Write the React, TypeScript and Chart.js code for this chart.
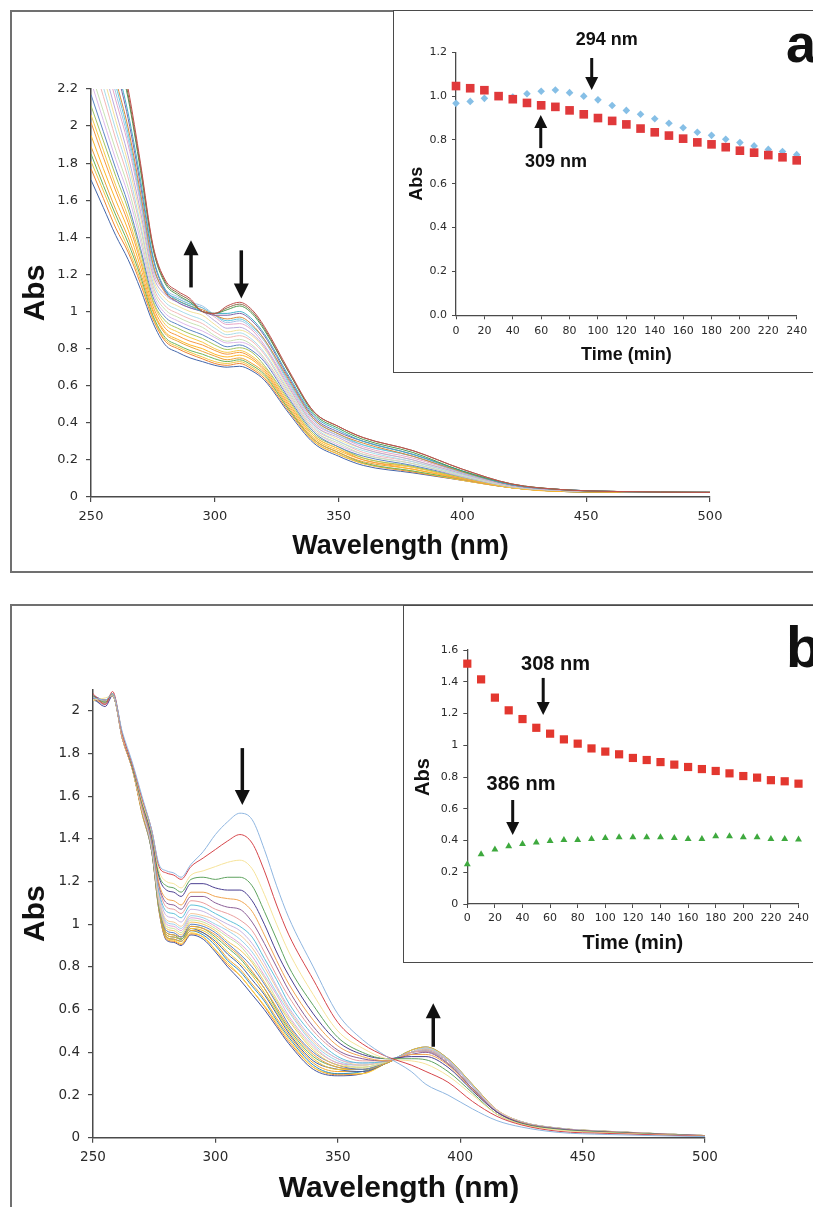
import React, { useEffect, useRef } from 'react';
import { Chart, registerables } from 'chart.js';

Chart.register(...registerables);

// ---------------- data ----------------
// Panel a: UV-vis spectra (one row per spectrum, every 10 min)
const WL_A = [250, 255, 260, 265, 270, 275, 280, 285, 290, 295, 300, 305, 310, 315, 320, 330, 340, 350, 360, 380, 400, 420, 440, 460, 500];
const SPEC_A = [
  [3.10, 2.80, 2.50, 2.20, 1.80, 1.36, 1.17, 1.11, 1.07, 1.00, 0.99, 1.03, 1.05, 1.01, 0.92, 0.68, 0.46, 0.38, 0.32, 0.25, 0.15, 0.07, 0.04, 0.03, 0.025],
  [3.06, 2.76, 2.47, 2.17, 1.78, 1.35, 1.16, 1.10, 1.06, 1.00, 0.99, 1.02, 1.04, 1.00, 0.91, 0.67, 0.46, 0.38, 0.32, 0.25, 0.15, 0.07, 0.04, 0.03, 0.025],
  [3.02, 2.73, 2.43, 2.15, 1.76, 1.34, 1.15, 1.09, 1.05, 1.00, 0.99, 1.01, 1.03, 0.99, 0.90, 0.67, 0.45, 0.37, 0.31, 0.24, 0.14, 0.07, 0.04, 0.03, 0.025],
  [2.91, 2.63, 2.35, 2.07, 1.71, 1.30, 1.12, 1.06, 1.03, 1.00, 0.99, 0.99, 1.00, 0.96, 0.88, 0.65, 0.44, 0.36, 0.30, 0.23, 0.14, 0.065, 0.04, 0.03, 0.025],
  [2.86, 2.59, 2.32, 2.04, 1.68, 1.29, 1.11, 1.05, 1.02, 1.00, 0.98, 0.98, 0.99, 0.95, 0.87, 0.64, 0.43, 0.35, 0.30, 0.23, 0.14, 0.065, 0.04, 0.03, 0.025],
  [2.78, 2.52, 2.25, 1.99, 1.64, 1.26, 1.10, 1.06, 1.03, 1.01, 0.98, 0.96, 0.97, 0.93, 0.85, 0.63, 0.42, 0.34, 0.29, 0.22, 0.135, 0.065, 0.04, 0.03, 0.025],
  [2.74, 2.48, 2.22, 1.96, 1.62, 1.25, 1.11, 1.07, 1.04, 1.02, 0.98, 0.95, 0.96, 0.92, 0.85, 0.62, 0.42, 0.34, 0.28, 0.22, 0.135, 0.065, 0.04, 0.03, 0.025],
  [2.70, 2.44, 2.18, 1.93, 1.60, 1.24, 1.12, 1.08, 1.05, 1.03, 0.98, 0.94, 0.95, 0.91, 0.84, 0.61, 0.41, 0.33, 0.28, 0.22, 0.13, 0.065, 0.04, 0.03, 0.025],
  [2.64, 2.39, 2.14, 1.90, 1.58, 1.22, 1.11, 1.07, 1.04, 1.02, 0.97, 0.93, 0.935, 0.90, 0.82, 0.60, 0.40, 0.33, 0.27, 0.21, 0.13, 0.06, 0.04, 0.03, 0.025],
  [2.56, 2.32, 2.08, 1.84, 1.54, 1.20, 1.09, 1.05, 1.02, 1.00, 0.95, 0.91, 0.915, 0.88, 0.81, 0.59, 0.39, 0.32, 0.26, 0.20, 0.125, 0.06, 0.035, 0.03, 0.025],
  [2.50, 2.27, 2.03, 1.80, 1.51, 1.18, 1.07, 1.03, 1.00, 0.98, 0.93, 0.89, 0.90, 0.87, 0.80, 0.58, 0.39, 0.31, 0.26, 0.20, 0.125, 0.06, 0.035, 0.03, 0.025],
  [2.43, 2.21, 1.98, 1.76, 1.47, 1.16, 1.05, 1.01, 0.98, 0.955, 0.91, 0.875, 0.885, 0.85, 0.78, 0.57, 0.38, 0.30, 0.25, 0.19, 0.12, 0.06, 0.035, 0.03, 0.025],
  [2.38, 2.16, 1.93, 1.72, 1.45, 1.14, 1.03, 0.99, 0.96, 0.935, 0.89, 0.86, 0.87, 0.84, 0.77, 0.56, 0.37, 0.30, 0.24, 0.19, 0.12, 0.06, 0.035, 0.03, 0.025],
  [2.29, 2.08, 1.87, 1.67, 1.41, 1.12, 1.01, 0.97, 0.94, 0.915, 0.87, 0.84, 0.85, 0.82, 0.75, 0.55, 0.36, 0.29, 0.23, 0.18, 0.115, 0.055, 0.035, 0.03, 0.025],
  [2.24, 2.03, 1.82, 1.63, 1.38, 1.10, 0.99, 0.95, 0.92, 0.895, 0.86, 0.83, 0.835, 0.81, 0.74, 0.54, 0.36, 0.28, 0.23, 0.18, 0.11, 0.055, 0.035, 0.03, 0.025],
  [2.17, 1.97, 1.77, 1.58, 1.34, 1.08, 0.97, 0.93, 0.90, 0.875, 0.84, 0.81, 0.82, 0.79, 0.73, 0.53, 0.35, 0.27, 0.22, 0.17, 0.11, 0.055, 0.035, 0.03, 0.025],
  [2.11, 1.92, 1.73, 1.55, 1.32, 1.06, 0.95, 0.91, 0.88, 0.855, 0.82, 0.795, 0.805, 0.78, 0.71, 0.52, 0.34, 0.27, 0.21, 0.165, 0.105, 0.055, 0.035, 0.03, 0.025],
  [2.06, 1.87, 1.68, 1.51, 1.29, 1.05, 0.93, 0.89, 0.86, 0.835, 0.80, 0.78, 0.79, 0.76, 0.70, 0.51, 0.33, 0.26, 0.21, 0.16, 0.105, 0.05, 0.035, 0.03, 0.025],
  [2.02, 1.83, 1.65, 1.48, 1.27, 1.03, 0.91, 0.87, 0.84, 0.82, 0.79, 0.77, 0.78, 0.75, 0.69, 0.50, 0.33, 0.26, 0.20, 0.16, 0.10, 0.05, 0.035, 0.03, 0.025],
  [1.95, 1.77, 1.60, 1.44, 1.24, 1.01, 0.89, 0.85, 0.82, 0.80, 0.77, 0.755, 0.765, 0.74, 0.68, 0.49, 0.32, 0.25, 0.20, 0.15, 0.10, 0.05, 0.03, 0.03, 0.025],
  [1.89, 1.72, 1.55, 1.40, 1.21, 1.00, 0.88, 0.84, 0.81, 0.785, 0.76, 0.74, 0.75, 0.72, 0.67, 0.48, 0.31, 0.24, 0.19, 0.15, 0.095, 0.05, 0.03, 0.025, 0.025],
  [1.85, 1.68, 1.52, 1.37, 1.19, 0.98, 0.86, 0.82, 0.79, 0.77, 0.745, 0.73, 0.74, 0.71, 0.66, 0.47, 0.31, 0.24, 0.185, 0.14, 0.095, 0.05, 0.03, 0.025, 0.025],
  [1.81, 1.65, 1.49, 1.34, 1.17, 0.97, 0.85, 0.81, 0.78, 0.755, 0.73, 0.72, 0.73, 0.70, 0.65, 0.47, 0.30, 0.23, 0.18, 0.14, 0.09, 0.05, 0.03, 0.025, 0.025],
  [1.77, 1.61, 1.45, 1.32, 1.15, 0.96, 0.84, 0.80, 0.77, 0.745, 0.72, 0.71, 0.72, 0.69, 0.64, 0.46, 0.30, 0.23, 0.18, 0.135, 0.09, 0.05, 0.03, 0.025, 0.025],
  [1.71, 1.56, 1.41, 1.28, 1.12, 0.94, 0.82, 0.78, 0.75, 0.73, 0.71, 0.70, 0.705, 0.68, 0.63, 0.45, 0.29, 0.22, 0.17, 0.13, 0.09, 0.05, 0.03, 0.025, 0.025],
];

// Panel b: UV-vis spectra
const WL_B = [250, 255, 258, 262, 266, 270, 274, 277, 280, 283, 286, 290, 295, 300, 305, 310, 315, 320, 325, 330, 340, 350, 360, 370, 380, 386, 395, 405, 415, 425, 440, 460, 500];
const SPEC_B = [
  [2.06, 2.05, 2.08, 1.90, 1.76, 1.60, 1.44, 1.28, 1.25, 1.24, 1.22, 1.28, 1.34, 1.42, 1.48, 1.52, 1.49, 1.35, 1.18, 1.03, 0.80, 0.58, 0.46, 0.38, 0.31, 0.25, 0.20, 0.135, 0.08, 0.05, 0.025, 0.015, 0.005],
  [2.08, 2.03, 2.09, 1.89, 1.75, 1.59, 1.44, 1.27, 1.24, 1.23, 1.21, 1.27, 1.31, 1.35, 1.39, 1.42, 1.38, 1.25, 1.09, 0.95, 0.74, 0.54, 0.44, 0.38, 0.34, 0.31, 0.26, 0.17, 0.10, 0.06, 0.03, 0.02, 0.007],
  [2.05, 2.06, 2.07, 1.88, 1.75, 1.58, 1.43, 1.25, 1.20, 1.19, 1.17, 1.23, 1.25, 1.27, 1.29, 1.30, 1.26, 1.14, 1.00, 0.87, 0.67, 0.50, 0.42, 0.37, 0.36, 0.345, 0.29, 0.20, 0.11, 0.063, 0.036, 0.023, 0.008],
  [2.07, 2.04, 2.08, 1.89, 1.74, 1.57, 1.42, 1.23, 1.18, 1.17, 1.15, 1.21, 1.22, 1.21, 1.22, 1.22, 1.18, 1.06, 0.93, 0.80, 0.62, 0.47, 0.40, 0.37, 0.37, 0.365, 0.31, 0.21, 0.11, 0.066, 0.038, 0.025, 0.008],
  [2.06, 2.02, 2.07, 1.88, 1.74, 1.57, 1.41, 1.22, 1.16, 1.15, 1.13, 1.19, 1.19, 1.17, 1.16, 1.16, 1.11, 1.00, 0.87, 0.76, 0.58, 0.45, 0.39, 0.37, 0.38, 0.38, 0.33, 0.22, 0.12, 0.068, 0.04, 0.026, 0.009],
  [2.05, 2.04, 2.08, 1.87, 1.73, 1.56, 1.40, 1.19, 1.12, 1.11, 1.09, 1.15, 1.15, 1.13, 1.12, 1.11, 1.06, 0.95, 0.83, 0.72, 0.55, 0.43, 0.38, 0.36, 0.39, 0.39, 0.34, 0.225, 0.12, 0.07, 0.04, 0.027, 0.009],
  [2.07, 2.05, 2.07, 1.88, 1.74, 1.56, 1.39, 1.18, 1.10, 1.09, 1.07, 1.13, 1.13, 1.10, 1.08, 1.07, 1.01, 0.91, 0.80, 0.69, 0.52, 0.41, 0.37, 0.36, 0.39, 0.40, 0.345, 0.23, 0.12, 0.07, 0.042, 0.027, 0.009],
  [2.06, 2.03, 2.08, 1.87, 1.73, 1.55, 1.39, 1.17, 1.08, 1.07, 1.05, 1.11, 1.10, 1.07, 1.05, 1.02, 0.97, 0.87, 0.76, 0.66, 0.50, 0.40, 0.36, 0.36, 0.40, 0.405, 0.35, 0.23, 0.12, 0.072, 0.042, 0.028, 0.009],
  [2.05, 2.04, 2.07, 1.88, 1.73, 1.55, 1.38, 1.15, 1.06, 1.05, 1.03, 1.09, 1.08, 1.05, 1.02, 0.99, 0.94, 0.84, 0.74, 0.63, 0.48, 0.38, 0.35, 0.36, 0.40, 0.405, 0.35, 0.23, 0.12, 0.072, 0.042, 0.028, 0.009],
  [2.07, 2.04, 2.08, 1.87, 1.74, 1.55, 1.38, 1.14, 1.04, 1.03, 1.01, 1.07, 1.06, 1.03, 1.00, 0.97, 0.91, 0.82, 0.71, 0.61, 0.46, 0.37, 0.35, 0.36, 0.40, 0.41, 0.36, 0.24, 0.125, 0.072, 0.043, 0.028, 0.009],
  [2.06, 2.05, 2.07, 1.88, 1.73, 1.54, 1.37, 1.12, 1.02, 1.01, 0.99, 1.05, 1.04, 1.02, 0.98, 0.95, 0.89, 0.80, 0.70, 0.60, 0.45, 0.37, 0.34, 0.36, 0.40, 0.415, 0.36, 0.24, 0.13, 0.073, 0.043, 0.029, 0.01],
  [2.05, 2.03, 2.08, 1.87, 1.73, 1.55, 1.37, 1.12, 1.01, 1.00, 0.98, 1.04, 1.03, 1.00, 0.97, 0.93, 0.87, 0.78, 0.68, 0.59, 0.44, 0.36, 0.34, 0.36, 0.40, 0.42, 0.365, 0.245, 0.127, 0.074, 0.044, 0.029, 0.01],
  [2.07, 2.04, 2.07, 1.88, 1.74, 1.54, 1.36, 1.11, 1.00, 0.99, 0.97, 1.03, 1.02, 0.99, 0.95, 0.91, 0.85, 0.76, 0.67, 0.57, 0.43, 0.35, 0.34, 0.36, 0.40, 0.42, 0.365, 0.245, 0.127, 0.074, 0.044, 0.029, 0.01],
  [2.06, 2.04, 2.08, 1.87, 1.73, 1.54, 1.36, 1.10, 0.99, 0.98, 0.96, 1.02, 1.01, 0.98, 0.94, 0.90, 0.83, 0.75, 0.65, 0.56, 0.42, 0.35, 0.33, 0.355, 0.40, 0.42, 0.365, 0.245, 0.127, 0.074, 0.044, 0.029, 0.01],
  [2.05, 2.05, 2.07, 1.88, 1.73, 1.54, 1.36, 1.10, 0.98, 0.97, 0.95, 1.01, 1.00, 0.97, 0.92, 0.88, 0.82, 0.73, 0.64, 0.55, 0.41, 0.34, 0.33, 0.355, 0.40, 0.42, 0.365, 0.245, 0.127, 0.074, 0.044, 0.029, 0.01],
  [2.07, 2.03, 2.08, 1.87, 1.74, 1.54, 1.35, 1.09, 0.97, 0.96, 0.94, 1.00, 0.99, 0.96, 0.91, 0.86, 0.80, 0.72, 0.63, 0.53, 0.40, 0.34, 0.32, 0.355, 0.40, 0.415, 0.36, 0.24, 0.126, 0.073, 0.043, 0.029, 0.01],
  [2.06, 2.04, 2.07, 1.88, 1.73, 1.53, 1.35, 1.09, 0.96, 0.95, 0.94, 0.99, 0.98, 0.95, 0.90, 0.85, 0.78, 0.70, 0.61, 0.52, 0.39, 0.33, 0.32, 0.35, 0.40, 0.41, 0.36, 0.24, 0.125, 0.072, 0.043, 0.028, 0.009],
  [2.05, 2.05, 2.08, 1.87, 1.73, 1.54, 1.35, 1.08, 0.96, 0.95, 0.93, 0.99, 0.98, 0.94, 0.89, 0.84, 0.77, 0.70, 0.60, 0.51, 0.38, 0.33, 0.32, 0.35, 0.40, 0.41, 0.36, 0.24, 0.125, 0.072, 0.043, 0.028, 0.009],
  [2.07, 2.04, 2.07, 1.88, 1.74, 1.53, 1.35, 1.08, 0.95, 0.94, 0.93, 0.98, 0.97, 0.93, 0.87, 0.82, 0.76, 0.68, 0.59, 0.50, 0.37, 0.32, 0.32, 0.35, 0.41, 0.425, 0.37, 0.25, 0.13, 0.075, 0.045, 0.03, 0.01],
  [2.06, 2.03, 2.08, 1.87, 1.73, 1.53, 1.35, 1.08, 0.95, 0.94, 0.93, 0.98, 0.96, 0.92, 0.86, 0.81, 0.74, 0.67, 0.58, 0.49, 0.36, 0.32, 0.31, 0.35, 0.41, 0.425, 0.37, 0.25, 0.13, 0.075, 0.045, 0.03, 0.01],
  [2.05, 2.04, 2.07, 1.88, 1.73, 1.53, 1.35, 1.07, 0.94, 0.93, 0.92, 0.97, 0.96, 0.91, 0.84, 0.79, 0.72, 0.65, 0.56, 0.48, 0.35, 0.31, 0.31, 0.35, 0.40, 0.42, 0.365, 0.245, 0.127, 0.074, 0.044, 0.029, 0.01],
  [2.07, 2.05, 2.08, 1.87, 1.74, 1.53, 1.34, 1.07, 0.94, 0.93, 0.92, 0.97, 0.95, 0.90, 0.83, 0.78, 0.71, 0.64, 0.55, 0.47, 0.34, 0.30, 0.31, 0.35, 0.40, 0.42, 0.365, 0.245, 0.127, 0.074, 0.044, 0.029, 0.01],
  [2.06, 2.03, 2.07, 1.88, 1.73, 1.52, 1.34, 1.07, 0.935, 0.925, 0.91, 0.96, 0.94, 0.88, 0.82, 0.76, 0.69, 0.62, 0.54, 0.46, 0.33, 0.30, 0.30, 0.35, 0.40, 0.41, 0.36, 0.24, 0.125, 0.072, 0.043, 0.028, 0.009],
  [2.05, 2.04, 2.08, 1.87, 1.73, 1.53, 1.34, 1.06, 0.93, 0.92, 0.905, 0.955, 0.94, 0.88, 0.81, 0.76, 0.69, 0.615, 0.53, 0.45, 0.33, 0.295, 0.30, 0.35, 0.40, 0.41, 0.36, 0.24, 0.125, 0.072, 0.043, 0.028, 0.009],
  [2.06, 2.05, 2.07, 1.88, 1.74, 1.52, 1.34, 1.06, 0.925, 0.915, 0.90, 0.95, 0.93, 0.87, 0.80, 0.74, 0.67, 0.60, 0.52, 0.44, 0.32, 0.29, 0.30, 0.35, 0.40, 0.405, 0.35, 0.23, 0.12, 0.072, 0.042, 0.028, 0.009],
];

// Insets: absorbance vs time
const TIME = [0, 10, 20, 30, 40, 50, 60, 70, 80, 90, 100, 110, 120, 130, 140, 150, 160, 170, 180, 190, 200, 210, 220, 230, 240];
const A_309 = [1.046, 1.036, 1.027, 1.00, 0.986, 0.969, 0.958, 0.951, 0.935, 0.917, 0.90, 0.887, 0.871, 0.852, 0.835, 0.82, 0.806, 0.789, 0.78, 0.767, 0.751, 0.742, 0.731, 0.721, 0.707];
const A_294 = [0.967, 0.976, 0.99, 1.00, 0.996, 1.011, 1.022, 1.028, 1.016, 1.00, 0.983, 0.957, 0.935, 0.917, 0.897, 0.876, 0.856, 0.835, 0.821, 0.803, 0.788, 0.773, 0.757, 0.747, 0.733];
const B_308 = [1.514, 1.415, 1.30, 1.22, 1.165, 1.11, 1.073, 1.037, 1.01, 0.98, 0.96, 0.943, 0.92, 0.907, 0.894, 0.878, 0.863, 0.85, 0.838, 0.823, 0.806, 0.796, 0.78, 0.773, 0.758];
const B_386 = [0.25, 0.313, 0.344, 0.363, 0.378, 0.388, 0.397, 0.403, 0.403, 0.41, 0.416, 0.42, 0.42, 0.42, 0.42, 0.416, 0.41, 0.41, 0.426, 0.426, 0.42, 0.42, 0.41, 0.41, 0.407];

// Annotations (in data units)
const ARROWS_MAIN_A = [{ x: 290.4, from: 1.13, to: 1.385 }, { x: 310.7, from: 1.33, to: 1.07 }];
const ARROWS_MAIN_B = [{ x: 311, from: 1.825, to: 1.558 }, { x: 389, from: 0.426, to: 0.63 }];
const ARROWS_INSET_A = [{ x: 95.6, from: 1.174, to: 1.028 }, { x: 59.7, from: 0.763, to: 0.914 }];
const LABELS_INSET_A = [{ x: 106.2, y: 1.256, text: '294 nm' }, { x: 70.4, y: 0.70, text: '309 nm' }];
const ARROWS_INSET_B = [{ x: 55, from: 1.424, to: 1.19 }, { x: 32.9, from: 0.655, to: 0.435 }];
const LABELS_INSET_B = [{ x: 63.9, y: 1.51, text: '308 nm' }, { x: 38.9, y: 0.75, text: '386 nm' }];

// ---------------- styles ----------------
const COLORS_A = ['#c0504d', '#8a6d4a', '#4e9a4e', '#3fb0c8', '#7f63a8', '#d98a3a', '#64cbe0', '#9fc3e6', '#e8a7c8', '#b9a9dc', '#f3e29b', '#a9dce9', '#f2b8b8', '#c9e2b3', '#dcb8ea', '#5b86c4', '#a3c45f', '#f7c948', '#f59a43', '#ffb627', '#e9a23b', '#6bb25a', '#f2c744', '#ee8433', '#4466aa'];
const COLORS_B = ['#8fb6e0', '#d6464b', '#f6e39a', '#5fa35f', '#4b3f91', '#f0a552', '#8c5f97', '#ea9f9f', '#5fc1d9', '#c7b5e3', '#f5c89c', '#98d2ea', '#e3a3d4', '#c8e1a1', '#f7c65b', '#5a7fc0', '#ef9a3b', '#5fb06a', '#f3c22f', '#3d5fa6', '#f6a72a', '#2f8cc2', '#ffd43e', '#f08d2f', '#3f55a0'];

const TICK_FONT = '"DejaVu Sans", Verdana, sans-serif';
const TITLE_FONT = '"Liberation Sans", Arial, Helvetica, sans-serif';
const AXIS_COLOR = '#4a4a4a';
const TICK_COLOR = '#2a2a2a';

const general = (v: any) => String(parseFloat(Number(v).toFixed(3)));

function annotationPlugin(arrows: any[], labels: any[], st: any) {
  return {
    id: 'annot',
    afterDatasetsDraw(chart: any) {
      const { ctx, scales } = chart;
      const xs = scales.x;
      const ys = scales.y;
      ctx.save();
      ctx.fillStyle = '#111';
      ctx.strokeStyle = '#111';
      for (const a of arrows) {
        const x = xs.getPixelForValue(a.x);
        const y0 = ys.getPixelForValue(a.from);
        const y1 = ys.getPixelForValue(a.to);
        const dir = y1 > y0 ? 1 : -1;
        const base = y1 - dir * st.headLen;
        ctx.lineWidth = st.shaft;
        ctx.beginPath();
        ctx.moveTo(x, y0);
        ctx.lineTo(x, base + dir * 1);
        ctx.stroke();
        ctx.beginPath();
        ctx.moveTo(x, y1);
        ctx.lineTo(x - st.headHalf, base);
        ctx.lineTo(x + st.headHalf, base);
        ctx.closePath();
        ctx.fill();
      }
      ctx.font = `bold ${st.labelSize || 18}px ${TITLE_FONT}`;
      ctx.textAlign = 'center';
      ctx.textBaseline = 'middle';
      for (const l of labels) {
        ctx.fillText(l.text, xs.getPixelForValue(l.x), ys.getPixelForValue(l.y));
      }
      if (st.letter) {
        ctx.font = `bold ${st.letterSize}px ${TITLE_FONT}`;
        ctx.textAlign = 'left';
        ctx.textBaseline = 'alphabetic';
        ctx.fillText(st.letter, st.letterX, st.letterY);
      }
      ctx.restore();
    },
  };
}

function mainConfig(wl: number[], spec: number[][], colors: string[], o: any) {
  return {
    type: 'line',
    data: {
      datasets: spec.map((row, k) => ({
        data: wl.map((w, i) => ({ x: w, y: row[i] })),
        borderColor: colors[k % colors.length],
        borderWidth: 1,
        pointRadius: 0,
        cubicInterpolationMode: 'monotone',
        fill: false,
      })),
    },
    options: {
      responsive: false,
      animation: false,
      events: [],
      layout: { padding: o.padding },
      plugins: { legend: { display: false }, tooltip: { enabled: false } },
      scales: {
        x: {
          type: 'linear',
          min: 250,
          max: 500,
          ticks: { stepSize: 50, color: TICK_COLOR, font: { family: TICK_FONT, size: o.tickSize }, padding: 7, maxRotation: 0, autoSkip: false, callback: general },
          grid: { display: true, drawOnChartArea: false, drawTicks: true, tickLength: 5, color: AXIS_COLOR, lineWidth: 1.2 },
          border: { display: true, color: AXIS_COLOR, width: 1.5 },
          title: { display: true, text: 'Wavelength (nm)', color: '#111', font: { family: TITLE_FONT, size: o.xTitleSize, weight: 'bold', lineHeight: 1.2 }, padding: { top: 0, bottom: o.xTitlePad } },
          afterFit: (s: any) => { s.height = o.xHeight; },
        },
        y: {
          type: 'linear',
          min: 0,
          max: o.yMax,
          ticks: { stepSize: 0.2, includeBounds: false, color: TICK_COLOR, font: { family: TICK_FONT, size: o.tickSize }, padding: 8, autoSkip: false, callback: general },
          grid: { display: true, drawOnChartArea: false, drawTicks: true, tickLength: 5, color: AXIS_COLOR, lineWidth: 1.2 },
          border: { display: true, color: AXIS_COLOR, width: 1.5 },
          title: { display: true, text: 'Abs', color: '#111', font: { family: TITLE_FONT, size: o.yTitleSize, weight: 'bold', lineHeight: 1.2 }, padding: { top: o.yTitlePad, bottom: 0 } },
          afterFit: (s: any) => { s.width = o.yWidth; },
        },
      },
    },
    plugins: [annotationPlugin(o.arrows, [], { shaft: 3.5, headLen: 15, headHalf: 7.5 })],
  };
}

function insetConfig(datasets: any[], o: any) {
  return {
    type: 'scatter',
    data: { datasets },
    options: {
      responsive: false,
      animation: false,
      events: [],
      layout: { padding: o.padding },
      plugins: { legend: { display: false }, tooltip: { enabled: false } },
      scales: {
        x: {
          type: 'linear',
          min: 0,
          max: 240,
          ticks: { stepSize: 20, color: TICK_COLOR, font: { family: TICK_FONT, size: 11 }, padding: o.xTickPad, maxRotation: 0, autoSkip: false, callback: general },
          grid: { display: true, drawOnChartArea: false, drawTicks: true, tickLength: 4, color: AXIS_COLOR, lineWidth: 1 },
          border: { display: true, color: AXIS_COLOR, width: 1.3 },
          title: { display: true, text: 'Time (min)', color: '#111', font: { family: TITLE_FONT, size: o.titleSize, weight: 'bold', lineHeight: 1.2 }, padding: { top: 0, bottom: o.xTitlePad } },
          afterFit: (s: any) => { s.height = o.xHeight; },
        },
        y: {
          type: 'linear',
          min: 0,
          max: o.yMax,
          ticks: { stepSize: 0.2, color: TICK_COLOR, font: { family: TICK_FONT, size: 11 }, padding: 5, autoSkip: false, callback: o.yFormat },
          grid: { display: true, drawOnChartArea: false, drawTicks: true, tickLength: 4, color: AXIS_COLOR, lineWidth: 1 },
          border: { display: true, color: AXIS_COLOR, width: 1.3 },
          title: { display: true, text: 'Abs', color: '#111', font: { family: TITLE_FONT, size: o.titleSize, weight: 'bold', lineHeight: 1.2 }, padding: { top: o.yTitlePad, bottom: 0 } },
          afterFit: (s: any) => { s.width = o.yWidth; },
        },
      },
    },
    plugins: [annotationPlugin(o.arrows, o.labels, { shaft: 3, headLen: 13, headHalf: 6.5, labelSize: o.titleSize, letter: o.letter, letterSize: o.letterSize, letterX: o.letterX, letterY: o.letterY })],
  };
}

const makeMainA = () =>
  mainConfig(WL_A, SPEC_A, COLORS_A, {
    padding: { left: 0, top: 29, right: 30, bottom: 0 },
    yMax: 2.2, tickSize: 13, xTitleSize: 27, yTitleSize: 30, xTitlePad: 7, yTitlePad: 0,
    xHeight: 73, yWidth: 73, arrows: ARROWS_MAIN_A,
  });

const makeMainB = () =>
  mainConfig(WL_B, SPEC_B, COLORS_B, {
    padding: { left: 0, top: 49.4, right: 35, bottom: 0 },
    yMax: 2.1, tickSize: 13.5, xTitleSize: 30, yTitleSize: 30, xTitlePad: 0, yTitlePad: 0,
    xHeight: 69.3, yWidth: 75, arrows: ARROWS_MAIN_B,
  });

const makeInsetA = () =>
  insetConfig(
    [
      { data: TIME.map((t, i) => ({ x: t, y: A_309[i] })), pointStyle: 'rect', pointRadius: 6.1, backgroundColor: '#e0393b', pointBorderWidth: 0, borderColor: '#e0393b', clip: false },
      { data: TIME.map((t, i) => ({ x: t, y: A_294[i] })), pointStyle: 'rectRot', pointRadius: 3.8, backgroundColor: '#86bfe6', pointBorderWidth: 0, borderColor: '#86bfe6', clip: false },
    ],
    {
      padding: { left: 0, top: 39.3, right: 16.3, bottom: 0 },
      yMax: 1.2, yFormat: (v: any) => Number(v).toFixed(1),
      titleSize: 18, xTitlePad: 4.2, yTitlePad: 9, xHeight: 54.7, yWidth: 59, xTickPad: 5,
      arrows: ARROWS_INSET_A, labels: LABELS_INSET_A,
      letter: 'a', letterSize: 54, letterX: 389, letterY: 49,
    }
  );

const makeInsetB = () =>
  insetConfig(
    [
      { data: TIME.map((t, i) => ({ x: t, y: B_308[i] })), pointStyle: 'rect', pointRadius: 5.8, backgroundColor: '#e3372f', pointBorderWidth: 0, borderColor: '#e3372f', clip: false },
      { data: TIME.map((t, i) => ({ x: t, y: B_386[i] })), pointStyle: 'triangle', pointRadius: 4, backgroundColor: '#3ea93e', pointBorderWidth: 0, borderColor: '#3ea93e', clip: false },
    ],
    {
      padding: { left: 0, top: 42, right: 9.7, bottom: 0 },
      yMax: 1.6, yFormat: general,
      titleSize: 20, xTitlePad: 5.7, yTitlePad: 5.3, xHeight: 57, yWidth: 61.3, xTickPad: 4,
      arrows: ARROWS_INSET_B, labels: LABELS_INSET_B,
      letter: 'b', letterSize: 57, letterX: 380, letterY: 58.7,
    }
  );

function ChartBox(props: { left: number; top: number; width: number; height: number; make: () => any }) {
  const ref = useRef<HTMLCanvasElement>(null);
  useEffect(() => {
    const chart = new Chart(ref.current as HTMLCanvasElement, props.make());
    return () => chart.destroy();
  }, []);
  return (
    <canvas
      ref={ref}
      width={props.width}
      height={props.height}
      style={{ position: 'absolute', left: props.left, top: props.top, width: props.width, height: props.height }}
    />
  );
}

export default function App() {
  return (
    <div style={{ position: 'absolute', left: 0, top: 0, width: 813, height: 1207, overflow: 'hidden', background: '#fff' }}>
      {/* panel a */}
      <ChartBox left={18} top={60} width={722} height={510} make={makeMainA} />
      <div style={{ position: 'absolute', left: 10, top: 10, width: 900, height: 563, border: '2px solid #707070', boxSizing: 'border-box' }} />
      <div style={{ position: 'absolute', left: 393, top: 10, width: 500, height: 363, border: '1.5px solid #4a4a4a', boxSizing: 'border-box', background: '#fff' }} />
      <ChartBox left={397} top={13} width={416} height={357} make={makeInsetA} />
      {/* panel b */}
      <ChartBox left={18} top={640} width={722} height={567} make={makeMainB} />
      <div style={{ position: 'absolute', left: 10, top: 604, width: 900, height: 700, border: '2px solid #707070', boxSizing: 'border-box' }} />
      <div style={{ position: 'absolute', left: 403, top: 605, width: 500, height: 358, border: '1.5px solid #4a4a4a', boxSizing: 'border-box', background: '#fff' }} />
      <ChartBox left={406} top={608} width={407} height={353} make={makeInsetB} />
    </div>
  );
}
